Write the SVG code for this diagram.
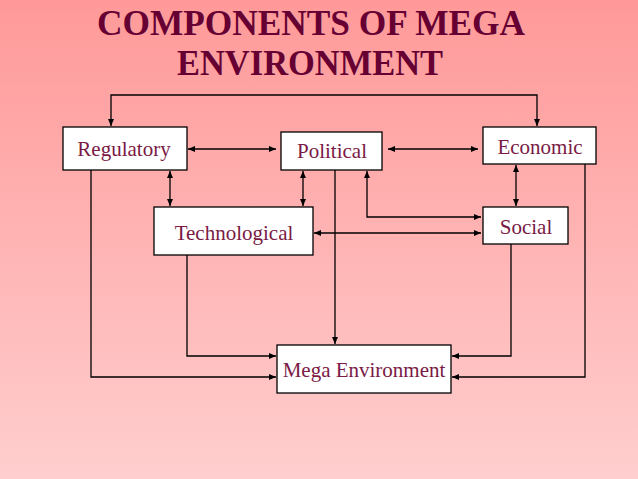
<svg xmlns="http://www.w3.org/2000/svg" width="638" height="479" viewBox="0 0 638 479">
  <defs>
    <linearGradient id="bg" x1="0" y1="0" x2="0" y2="1">
      <stop offset="0" stop-color="#FF9999"/>
      <stop offset="1" stop-color="#FFCECE"/>
    </linearGradient>
    <marker id="arr" markerUnits="userSpaceOnUse" markerWidth="8" markerHeight="6" refX="7" refY="3" orient="auto-start-reverse">
      <path d="M0,0 L7,3 L0,6 z" fill="#000"/>
    </marker>
    <style>
      .box { fill: #fff; stroke: #000; stroke-width: 1.3; }
      .lbl { font-family: "Liberation Serif", "Times New Roman", serif; font-size: 21px; fill: #7A1A45; text-anchor: middle; }
      .title { font-family: "Liberation Serif", "Times New Roman", serif; font-size: 36px; font-weight: bold; fill: #660033; text-anchor: middle; }
      .c { fill: none; stroke: #000; stroke-width: 1.3; }
      .b { marker-start: url(#arr); marker-end: url(#arr); }
      .e { marker-end: url(#arr); }
    </style>
  </defs>
  <rect width="638" height="479" fill="url(#bg)"/>

  <g id="title">
    <text class="title" x="311" y="35" textLength="428" lengthAdjust="spacingAndGlyphs">COMPONENTS OF MEGA</text>
    <text class="title" x="310" y="75" textLength="266" lengthAdjust="spacingAndGlyphs">ENVIRONMENT</text>
  </g>

  <g id="connectors">
    <path class="c b" d="M111,126 L111,95 L537,95 L537,126"/>
    <path class="c b" d="M188,149 L276,149"/>
    <path class="c b" d="M388,149 L478,149"/>
    <path class="c b" d="M170,171 L170,206"/>
    <path class="c b" d="M303,171 L303,206"/>
    <path class="c b" d="M516,165 L516,206"/>
    <path class="c b" d="M367,171 L367,217 L481,217"/>
    <path class="c b" d="M314,233 L481,233"/>
    <path class="c e" d="M335,170 L335,344"/>
    <path class="c e" d="M187,255 L187,356 L276,356"/>
    <path class="c e" d="M91,170 L91,377 L276,377"/>
    <path class="c e" d="M511,244 L511,356 L452,356"/>
    <path class="c e" d="M585,164 L585,377 L452,377"/>
  </g>

  <g id="regulatory">
    <rect class="box" x="63" y="127" width="124" height="43"/>
    <text class="lbl" x="124" y="156">Regulatory</text>
  </g>
  <g id="political">
    <rect class="box" x="281" y="132" width="101" height="38"/>
    <text class="lbl" x="332" y="158">Political</text>
  </g>
  <g id="economic">
    <rect class="box" x="483" y="127" width="113" height="37"/>
    <text class="lbl" x="540" y="154">Economic</text>
  </g>
  <g id="technological">
    <rect class="box" x="154" y="207" width="159" height="48"/>
    <text class="lbl" x="234" y="240">Technological</text>
  </g>
  <g id="social">
    <rect class="box" x="483" y="207" width="85" height="37"/>
    <text class="lbl" x="526" y="234">Social</text>
  </g>
  <g id="mega-environment">
    <rect class="box" x="277" y="345" width="174" height="48"/>
    <text class="lbl" x="364" y="377">Mega Environment</text>
  </g>
</svg>
